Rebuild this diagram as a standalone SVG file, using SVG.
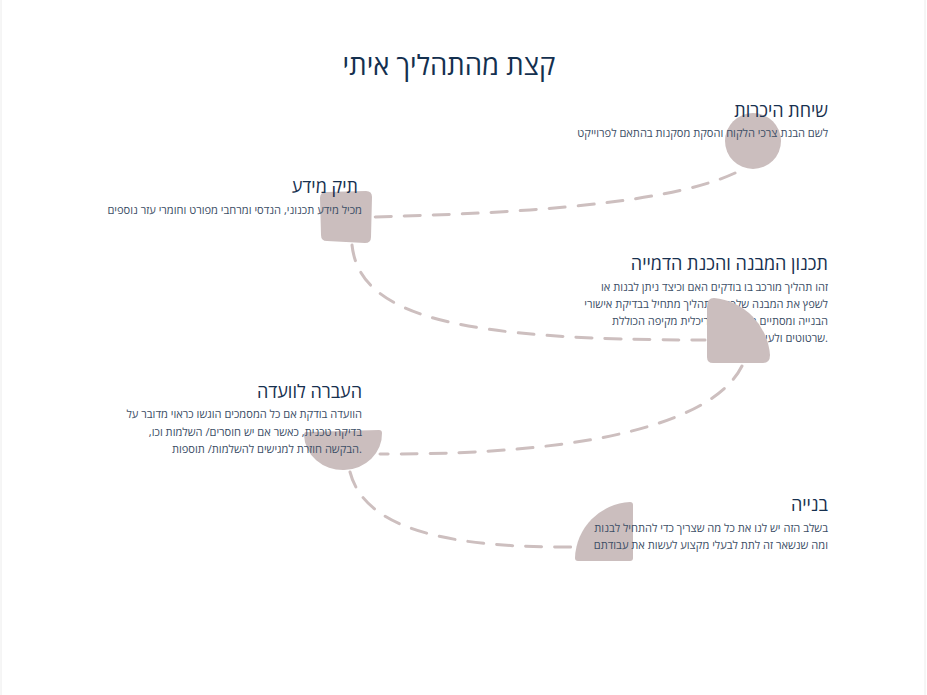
<svg xmlns="http://www.w3.org/2000/svg" width="927" height="695" viewBox="0 0 927 695">
<style>
  text { font-family: "Open Sans", "Liberation Sans", "DejaVu Sans", sans-serif; }
  .title { font-size: 27.5px; fill: #14304f; text-anchor: middle; }
  .head { font-size: 18px; fill: #17304f; text-anchor: end; }
  .desc { font-size: 11.1px; fill: #3c4e66; text-anchor: end; }
  .shape { fill: #cbbebe; }
  .conn { fill: none; stroke: #cdbfbf; stroke-width: 3; stroke-dasharray: 16 13; stroke-linecap: round; }
</style>
<rect x="0" y="0" width="927" height="695" fill="#ffffff"/>
<line x1="1" y1="0" x2="1" y2="695" stroke="#ececec" stroke-width="1"/>
<line x1="925" y1="0" x2="925" y2="695" stroke="#ececec" stroke-width="1"/>

<text class="title" x="449" y="75">קצת מהתהליך איתי</text>

<g id="connectors">
  <path class="conn" d="M735,173 C660,208 480,214 372,217"/>
  <path class="conn" d="M352,245 C360,320 470,340 705,340"/>
  <path class="conn" d="M742,366 C715,420 600,455 380,454"/>
  <path class="conn" d="M350,472 C365,530 450,548 575,547"/>
</g>

<g id="node-1">
  <ellipse class="shape" cx="753" cy="141" rx="28" ry="28"/>
  <text class="head" x="828" y="117">שיחת היכרות</text>
  <text class="desc" x="828" y="137">לשם הבנת צרכי הלקוח והסקת מסקנות בהתאם לפרוייקט</text>
</g>

<g id="node-2">
  <path class="shape" d="M326,192 L366,191 Q372,191 372,197 L371,237 Q371,243 365,243 L327,241 Q321,241 321,235 L320,198 Q320,192 326,192 Z"/>
  <text class="head" x="358" y="193">תיק מידע</text>
  <text class="desc" x="362" y="214">מכיל מידע תכנוני, הנדסי ומרחבי מפורט וחומרי עזר נוספים</text>
</g>

<g id="node-3">
  <text class="head" x="828" y="270">תכנון המבנה והכנת הדמייה</text>
  <text class="desc" x="828" y="291">זהו תהליך מורכב בו בודקים האם וכיצד ניתן לבנות או</text>
  <text class="desc" x="828" y="308">לשפץ את המבנה שלכם. התהליך מתחיל בבדיקת אישורי</text>
  <text class="desc" x="828" y="325">הבנייה ומסתיים בתכנית אדריכלית מקיפה הכוללת</text>
  <text class="desc" x="828" y="342">שרטוטים ולעיתים הדמיות.</text>
  <path class="shape" d="M707,307 Q707,298 714,298 A62 62 0 0 1 770,355 Q770,363 763,363 L713,363 Q707,363 707,357 Z"/>
</g>

<g id="node-4">
  <path class="shape" d="M306,432 L379,430 Q382,430 382,433 A39 36 0 0 1 304,435 Q304,432 306,432 Z"/>
  <text class="head" x="362" y="398">העברה לוועדה</text>
  <text class="desc" x="362" y="418">הוועדה בודקת אם כל המסמכים הוגשו כראוי מדובר על</text>
  <text class="desc" x="362" y="436">בדיקה טכנית, כאשר אם יש חוסרים/ השלמות וכו,&#x200F;</text>
  <text class="desc" x="362" y="453">הבקשה חוזרת למגישים להשלמות/ תוספות.</text>
</g>

<g id="node-5">
  <path class="shape" d="M633,505 L633,558 Q633,561 630,561 L578,561 Q575,561 575,558 A58 58 0 0 1 630,502 Q633,502 633,505 Z"/>
  <text class="head" x="828" y="511">בנייה</text>
  <text class="desc" x="828" y="532">בשלב הזה יש לנו את כל מה שצריך כדי להתחיל לבנות</text>
  <text class="desc" x="828" y="549">ומה שנשאר זה לתת לבעלי מקצוע לעשות את עבודתם</text>
</g>
</svg>
